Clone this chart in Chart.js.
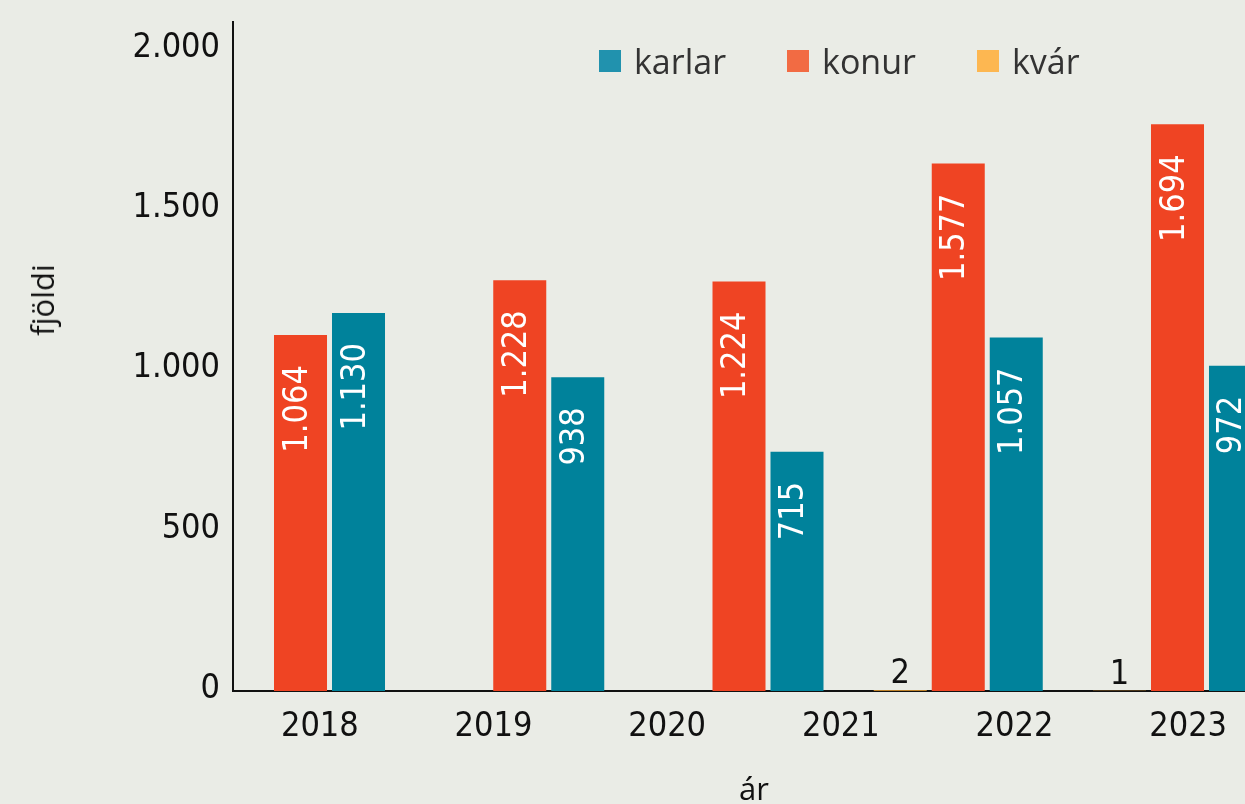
<!DOCTYPE html>
<html lang="is">
<head>
<meta charset="utf-8">
<title>fjöldi eftir árum</title>
<script src="https://cdn.jsdelivr.net/npm/chart.js@4/dist/chart.umd.min.js"></script>
<style>
  html, body { margin: 0; padding: 0; width: 1245px; height: 804px; overflow: hidden; background: #EAECE6; }
  #wrap { position: absolute; left: 0; top: 0; width: 1290px; height: 830px; }
  #legend { position: absolute; left: 599px; top: 61px; transform: translateY(-50%); display: flex; align-items: center;
            font-family: 'Open Sans', 'Noto Sans', sans-serif; font-size: 34px; line-height: 34px; color: #333; }
  .item { display: flex; align-items: center; margin-right: 61px; }
  .box { width: 22px; height: 22px; margin-right: 13px; }
  #ytitle { position: absolute; left: 42px; top: 300px; transform: translate(-50%, -50%) rotate(-90deg);
            font-family: 'Open Sans', 'Noto Sans', sans-serif; font-size: 31px; color: #111; white-space: nowrap; }
</style>
</head>
<body>
<div id="wrap">
  <canvas id="chart" width="1290" height="830"></canvas>
  <div id="legend"></div>
  <div id="ytitle">fjöldi</div>
</div>
<script>
// tick labels on the x axis
const years = ['2018', '2019', '2020', '2021', '2022', '2023'];
// series (one value per bar group)
const kvar = [0, 0, 0, 2, 1];
const konur = [1064, 1228, 1224, 1577, 1694];
const karlar = [1130, 938, 715, 1057, 972];
const yTicks = [0, 500, 1000, 1500, 2000];

const numFont = "'DejaVu Sans Condensed', 'DejaVu Sans', sans-serif";
const fmt = v => String(v).replace(/\B(?=(\d{3})+(?!\d))/g, '.');
const pts = arr => arr.map((v, i) => ({ x: i, y: v }));

const valueLabels = {
  id: 'valueLabels',
  afterDatasetsDraw(chart) {
    const ctx = chart.ctx;
    chart.data.datasets.forEach((ds, di) => {
      const meta = chart.getDatasetMeta(di);
      meta.data.forEach((bar, i) => {
        const v = ds.data[i].y;
        if (!v) return;
        ctx.save();
        ctx.font = '34px ' + numFont;
        ctx.textBaseline = 'alphabetic';
        if (v >= 100) {
          ctx.translate(bar.x + 6, bar.y + 30);
          ctx.rotate(-Math.PI / 2);
          ctx.fillStyle = '#fff';
          ctx.textAlign = 'right';
          ctx.fillText(fmt(v), 0, 0);
        } else {
          ctx.fillStyle = '#111';
          ctx.textAlign = 'center';
          ctx.fillText(fmt(v), bar.x, bar.y - 7);
        }
        ctx.restore();
      });
    });
  }
};

const barOpts = { xAxisID: 'xb', yAxisID: 'yb', categoryPercentage: 0.7936, barPercentage: 0.914, borderWidth: 0 };

const chart = new Chart(document.getElementById('chart').getContext('2d'), {
  type: 'bar',
  data: {
    labels: years,
    datasets: [
      { label: 'kvár', data: pts(kvar), backgroundColor: '#F9A832', ...barOpts },
      { label: 'konur', data: pts(konur), backgroundColor: '#EF4423', ...barOpts },
      { label: 'karlar', data: pts(karlar), backgroundColor: '#00829B', ...barOpts }
    ]
  },
  options: {
    responsive: false,
    animation: false,
    layout: { padding: { top: 22, right: 15, bottom: 0, left: 0 } },
    plugins: { legend: { display: false }, tooltip: { enabled: false } },
    scales: {
      // data scales (hidden)
      xb: {
        type: 'linear', display: false, offset: false, min: -0.3079, max: 4.4447,
        afterBuildTicks: s => { s.ticks = karlar.map((v, i) => ({ value: i })); }
      },
      yb: { type: 'linear', display: false, min: 0, max: 2000 },
      // label scales (visible)
      x: {
        type: 'category', offset: true,
        grid: { display: false, drawTicks: false },
        border: { display: true, color: '#111', width: 2 },
        ticks: { color: '#111', padding: 16, font: { family: numFont, size: 34 } },
        title: { display: true, text: 'ár', color: '#111', padding: { top: 9, bottom: 20 },
                 font: { family: "'Open Sans', 'Noto Sans', sans-serif", size: 31 } }
      },
      y: {
        type: 'linear', position: 'left', min: -6.2, max: 2081.2,
        grid: { display: false, drawTicks: false },
        border: { display: true, color: '#111', width: 2 },
        ticks: { color: '#111', padding: 13, font: { family: numFont, size: 34 }, callback: v => fmt(v) },
        afterBuildTicks: s => { s.ticks = yTicks.map(v => ({ value: v })); },
        afterFit: s => { s.width = 233; s.paddingTop = 0; s.paddingBottom = 0; }
      }
    }
  },
  plugins: [valueLabels]
});

// html legend, in the order karlar, konur, kvár
const legendColors = { karlar: '#2192AE', konur: '#F26B43', 'kvár': '#FDB751' };
const legend = document.getElementById('legend');
chart.data.datasets.slice().reverse().forEach(ds => {
  const item = document.createElement('div');
  item.className = 'item';
  const box = document.createElement('span');
  box.className = 'box';
  box.style.background = legendColors[ds.label];
  const txt = document.createElement('span');
  txt.textContent = ds.label;
  item.appendChild(box);
  item.appendChild(txt);
  legend.appendChild(item);
});
</script>
</body>
</html>
